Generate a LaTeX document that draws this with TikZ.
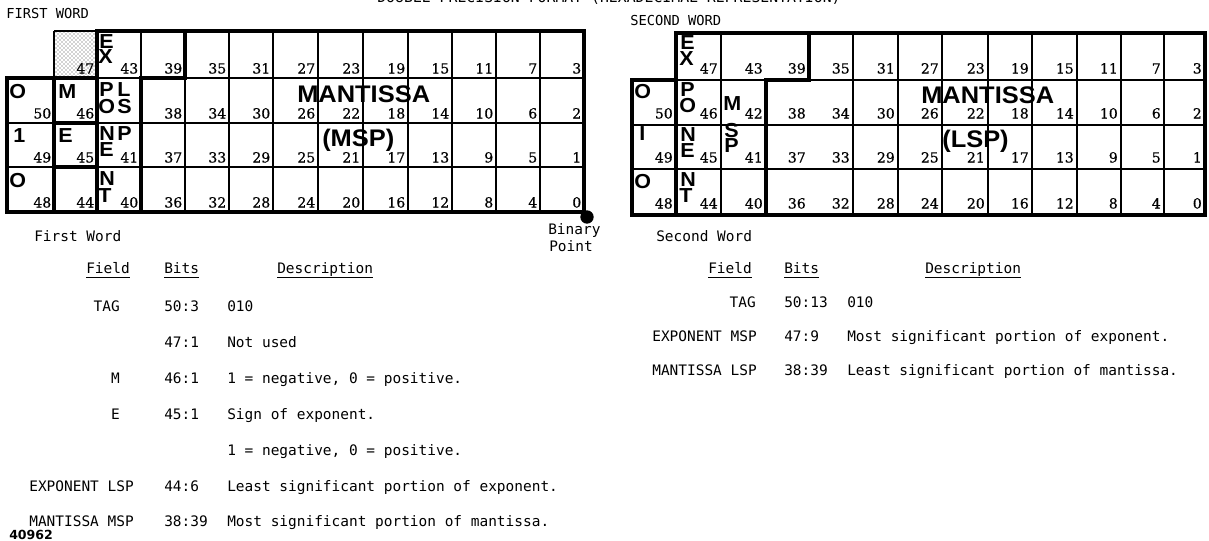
\documentclass[tikz,border=0pt]{standalone}
\usepackage{fontspec}
\setmainfont{Liberation Sans}
\newfontfamily\numf[FakeBold=0.6]{DejaVu Serif}
\newfontfamily\twf{DejaVu Sans Mono}
\newfontfamily\lblf[FakeStretch=1.06]{Liberation Sans}
\newfontfamily\boldsf{DejaVu Sans}
\usetikzlibrary{patterns}
\tikzset{
  num/.style={font=\numf\fontsize{10.5}{12}\selectfont, inner sep=0pt, anchor=base east},
  big/.style={font=\lblf\bfseries\fontsize{15.2}{16}\selectfont, inner sep=0pt, anchor=base west},
  huge/.style={font=\lblf\bfseries\fontsize{18}{20}\selectfont, inner sep=0pt, anchor=base west},
  tw/.style={font=\twf\fontsize{10.84}{12}\selectfont, inner sep=0pt, anchor=base west},
  twr/.style={tw, anchor=base east},
  gthin/.style={line width=0.8pt},
  growline/.style={line width=1.4pt},
  gthick/.style={line width=2.8pt, line join=miter, line cap=rect},
  ul/.style={line width=0.8pt},
}
\begin{document}
\begin{tikzpicture}[x=0.75pt,y=-0.75pt]
\useasboundingbox (0,0) rectangle (1209,540);
% ---------- title (cut off at the top) ----------
\node[font=\twf\fontsize{11.1}{12}\selectfont, inner sep=0pt, anchor=base] (title) at (609,2.8) {DOUBLE PRECISION FORMAT (HEXADECIMAL REPRESENTATION)};
\node[tw, font=\twf\fontsize{10.3}{11}\selectfont] (fwhead) at (6,18) {FIRST WORD};
\node[tw, font=\twf\fontsize{10.3}{11}\selectfont] (swhead) at (630,25) {SECOND WORD};

% ================= FIRST WORD GRID =================
\fill[pattern=crosshatch dots, pattern color=black!75] (54,31) rectangle (97,78);
\draw[gthin] (54,31) -- (97,31);
\draw[gthin] (54,31) -- (54,78);
\foreach \x in {141,185,229,273,318,363,408,452,496,540}
  \draw[gthin] (\x,31) -- (\x,212);
\foreach \y in {78,123,167}
  \draw[growline] (7,\y) -- (584,\y);
% thick outlines
\draw[gthick] (97,31) -- (584,31) -- (584,212) -- (7,212) -- (7,78) -- (97,78);
\draw[gthick] (54,78) -- (54,212);
\draw[gthick] (97,31) -- (97,212);
\draw[gthick] (54,123) -- (97,123);
\draw[gthick] (54,167) -- (97,167);
\draw[gthick] (185,31) -- (185,78) -- (141,78) -- (141,212);
% bit numbers
\foreach \c/\xr in {0/54,1/97,2/141,3/185,4/229,5/273,6/318,7/363,8/408,9/452,10/496,11/540,12/584}
  \foreach \r/\yb in {0/78,1/123,2/167,3/212} {
    \pgfmathtruncatemacro\bitno{51-\r-4*\c}
    \pgfmathtruncatemacro\skipit{or(and(\r==0,\c==0),and(\r==1,\c==2))}
    \ifnum\skipit=0
      \node[num] (a-\r-\c) at (\xr-2.5,\yb-4.5) {\bitno};
    \fi
  };
% letters
\node[big] (aO1) at (9,98) {O};
\node[big] (a1)  at (13,142) {1};
\node[big] (aO3) at (9,187) {O};
\node[big] (aM)  at (58,98) {M};
\node[big] (aE)  at (58,142) {E};
\node[big] (ae1) at (99,48) {E};
\node[big] (ax1) at (98,63) {X};
\node[big] (ap1) at (99,96) {P};
\node[big] (ao1) at (98,113) {O};
\node[big] (an1) at (99,140) {N};
\node[big] (ae2) at (99,156) {E};
\node[big] (an2) at (99,185) {N};
\node[big] (at1) at (98,202) {T};
\node[big] (al1) at (117,96) {L};
\node[big] (as1) at (117,113) {S};
\node[big] (ap2) at (117,140) {P};
\node[huge] (amant) at (297,102) {MANTISSA};
\node[huge] (amsp) at (322,146) {(MSP)};
% binary point
\node[circle, fill=black, inner sep=0pt, minimum size=10pt] (bp) at (587,217) {};
\node[tw] (bin1) at (548,234) {Binary};
\node[tw] (bin2) at (549,251) {Point};

% ================= SECOND WORD GRID =================
\draw[gthin] (721,33) -- (721,215);
\foreach \x in {853,898,942,988,1032,1077,1121,1164}
  \draw[gthin] (\x,33) -- (\x,215);
\foreach \y in {80,125,169}
  \draw[growline] (632,\y) -- (1205,\y);
\draw[gthick] (676,33) -- (1205,33) -- (1205,215) -- (632,215) -- (632,80) -- (676,80) -- cycle;
\draw[gthick] (676,80) -- (676,215);
\draw[gthick] (809,33) -- (809,80) -- (766,80) -- (766,215);
\foreach \c/\xr in {0/676,1/721,2/766,3/809,4/853,5/898,6/942,7/988,8/1032,9/1077,10/1121,11/1164,12/1205}
  \foreach \r/\yb in {0/80,1/125,2/169,3/215} {
    \pgfmathtruncatemacro\bitno{51-\r-4*\c}
    \pgfmathtruncatemacro\skipit{and(\r==0,\c==0)}
    \ifnum\skipit=0
      \node[num] (b-\r-\c) at (\xr-3,\yb-6.5) {\bitno};
    \fi
  };
\node[big] (bO1) at (634,98) {O};
\node[big] (bI)  at (639,140) {I};
\node[big] (bO3) at (634,188) {O};
\node[big] (be1) at (680,49) {E};
\node[big] (bx1) at (679,65) {X};
\node[big] (bp1) at (680,96) {P};
\node[big] (bo1) at (679,112) {O};
\node[big] (bn1) at (680,141) {N};
\node[big] (be2) at (680,157) {E};
\node[big] (bn2) at (680,186) {N};
\node[big] (bt1) at (679,202) {T};
\node[big] (bm1) at (723,110) {M};
\node[big] (bs1) at (724,137) {S};
\node[big] (bp2) at (724,152) {P};
\node[huge] (bmant) at (921,103) {MANTISSA};
\node[huge] (blsp) at (942,147) {(LSP)};

% ================= FIRST WORD TABLE =================
\node[tw] (t1) at (34,241) {First Word};
\node[tw] (h1f) at (86,273) {Field};
\node[tw] (h1b) at (164,273) {Bits};
\node[tw] (h1d) at (277,273) {Description};
\foreach \n in {h1f,h1b,h1d}
  \draw[ul] ([yshift=-3.2pt]\n.base west) -- ([yshift=-3.2pt]\n.base east);
\node[twr] (r1f) at (120,311) {TAG};
\node[tw]  (r1b) at (164,311) {50:3};
\node[tw]  (r1d) at (227,311) {010};
\node[tw]  (r2b) at (164,347) {47:1};
\node[tw]  (r2d) at (227,347) {Not used};
\node[twr] (r3f) at (120,383) {M};
\node[tw]  (r3b) at (164,383) {46:1};
\node[tw]  (r3d) at (227,383) {1 = negative, 0 = positive.};
\node[twr] (r4f) at (120,419) {E};
\node[tw]  (r4b) at (164,419) {45:1};
\node[tw]  (r4d) at (227,419) {Sign of exponent.};
\node[tw]  (r5d) at (227,455) {1 = negative, 0 = positive.};
\node[twr] (r6f) at (134,491) {EXPONENT LSP};
\node[tw]  (r6b) at (164,491) {44:6};
\node[tw]  (r6d) at (227,491) {Least significant portion of exponent.};
\node[twr] (r7f) at (134,526) {MANTISSA MSP};
\node[tw]  (r7b) at (164,526) {38:39};
\node[tw]  (r7d) at (227,526) {Most significant portion of mantissa.};
\node[font=\boldsf\bfseries\fontsize{9.4}{10}\selectfont, inner sep=0pt, anchor=base west] (fig) at (9,539) {40962};

% ================= SECOND WORD TABLE =================
\node[tw] (t2) at (656,241) {Second Word};
\node[tw] (h2f) at (708,273) {Field};
\node[tw] (h2b) at (784,273) {Bits};
\node[tw] (h2d) at (925,273) {Description\ };
\foreach \n in {h2f,h2b,h2d}
  \draw[ul] ([yshift=-3.2pt]\n.base west) -- ([yshift=-3.2pt]\n.base east);
\node[twr] (s1f) at (756,307) {TAG};
\node[tw]  (s1b) at (784,307) {50:13};
\node[tw]  (s1d) at (847,307) {010};
\node[twr] (s2f) at (757,341) {EXPONENT MSP};
\node[tw]  (s2b) at (784,341) {47:9};
\node[tw]  (s2d) at (847,341) {Most significant portion of exponent.};
\node[twr] (s3f) at (757,375) {MANTISSA LSP};
\node[tw]  (s3b) at (784,375) {38:39};
\node[tw]  (s3d) at (847,375) {Least significant portion of mantissa.};
\end{tikzpicture}
\end{document}
